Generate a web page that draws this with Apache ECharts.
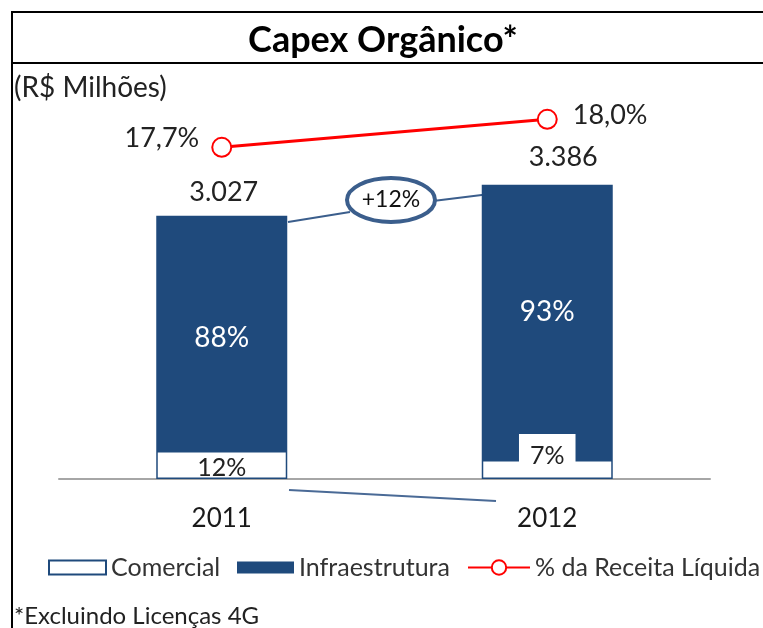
<!DOCTYPE html>
<html lang="pt">
<head>
<meta charset="UTF-8">
<title>Capex Orgânico</title>
<style>
  html, body { margin: 0; padding: 0; background: #fff; }
  #chart { width: 763px; height: 628px; }
</style>
</head>
<body>
<div id="chart"></div>
<script src="https://cdn.jsdelivr.net/npm/echarts@6/dist/echarts.min.js"></script>
<script>
  // dados (R$ milhões)
  const years = ['2011', '2012'];
  const comercial = [322, 218];
  const infraestrutura = [2705, 3168];
  const totals = [3027, 3386];
  const comercialPct = ['12%', '7%'];
  const infraPct = ['88%', '93%'];
  const receitaPct = [17.7, 18.0];
  const growthText = '+12%';

  const FONT = 'Lato, "Noto Sans", sans-serif';
  const BLUE = '#1F4A7C';

  function fmtThousands(v) {
    return String(v).replace(/\B(?=(\d{3})+(?!\d))/g, '.');
  }
  function fmtPct(v) {
    return v.toFixed(1).replace('.', ',') + '%';
  }

  const chart = echarts.init(document.getElementById('chart'));

  // offsets dos rótulos, por ano
  const totalOffsets = [[2, 0], [16, -4]];
  const infraOffsets = [[0, 5], [0, -10]];
  const comOffsets = [[0, 3], [0, -14]];
  const lineLabels = [
    { position: 'left', distance: 12, offset: [0, -9] },
    { position: 'right', distance: 15, offset: [0, -4] }
  ];

  const legendText = { fontSize: 25, fontFamily: FONT, color: '#333' };

  const option = {
    animation: false,
    grid: { left: 59, right: 53, top: 100, bottom: 149 },
    xAxis: {
      type: 'category',
      data: years,
      axisLine: { lineStyle: { color: '#A6A6A6', width: 2 } },
      axisTick: { show: false },
      axisLabel: { color: '#1a1a1a', fontSize: 26, fontFamily: FONT, margin: 27 }
    },
    yAxis: [
      { type: 'value', min: 0, max: 4360, show: false },
      { type: 'value', min: 14.145, max: 18.207, show: false }
    ],
    legend: [
      {
        data: ['Comercial'], left: 48, top: 555, padding: 0, icon: 'rect',
        itemWidth: 57, itemHeight: 14, itemGap: 0, textStyle: legendText
      },
      {
        data: ['Infraestrutura'], left: 237, top: 555, padding: 0, icon: 'rect',
        itemWidth: 57, itemHeight: 12, itemGap: 0, textStyle: legendText
      },
      {
        data: ['% da Receita Líquida'], left: 467, top: 555, padding: 0,
        itemWidth: 62, itemHeight: 18, itemGap: 0, textStyle: legendText
      }
    ],
    series: [
      {
        name: 'Comercial',
        type: 'bar',
        stack: 'capex',
        barWidth: 131,
        z: 4,
        itemStyle: { color: '#FFFFFF', borderColor: BLUE, borderWidth: 1.5 },
        data: comercial.map((v, i) => ({
          value: v,
          label: {
            show: true,
            position: 'inside',
            offset: comOffsets[i],
            formatter: comercialPct[i],
            color: '#222',
            fontSize: 25,
            fontFamily: FONT,
            backgroundColor: i === 1 ? '#FFFFFF' : 'transparent',
            padding: i === 1 ? [13, 11, 5, 11] : 0
          }
        }))
      },
      {
        name: 'Infraestrutura',
        type: 'bar',
        stack: 'capex',
        barWidth: 131,
        z: 2,
        itemStyle: { color: BLUE },
        data: infraestrutura.map((v, i) => ({
          value: v,
          label: {
            show: true,
            position: 'inside',
            offset: infraOffsets[i],
            formatter: infraPct[i],
            color: '#FFFFFF',
            fontSize: 28,
            fontFamily: FONT
          }
        }))
      },
      {
        // rótulo do total por cima da pilha
        name: 'total',
        type: 'bar',
        stack: 'capex',
        barWidth: 131,
        itemStyle: { color: 'transparent' },
        data: totals.map((v, i) => ({
          value: 0,
          label: {
            show: true,
            position: 'top',
            distance: 10,
            offset: totalOffsets[i],
            formatter: fmtThousands(v),
            color: '#222',
            fontSize: 27,
            fontFamily: FONT
          }
        })),
        silent: true
      },
      {
        name: '% da Receita Líquida',
        type: 'line',
        yAxisIndex: 1,
        symbol: 'emptyCircle',
        symbolSize: 19,
        color: '#FF0000',
        lineStyle: { color: '#FF0000', width: 3 },
        itemStyle: { color: '#FF0000', borderWidth: 2 },
        data: receitaPct.map((v, i) => ({
          value: v,
          label: Object.assign({
            show: true,
            formatter: fmtPct(v),
            color: '#222',
            fontSize: 27,
            fontFamily: FONT
          }, lineLabels[i])
        })),
        z: 5
      }
    ],
    graphic: [
      // moldura
      { type: 'rect', shape: { x: 12, y: 12, width: 800, height: 700 },
        style: { fill: 'none', stroke: '#000', lineWidth: 2 }, z: 0 },
      { type: 'line', shape: { x1: 12, y1: 63, x2: 763, y2: 63 },
        style: { stroke: '#000', lineWidth: 2 }, z: 0 },
      { type: 'text', x: 383, y: 40,
        style: { text: 'Capex Orgânico*', font: 'bold 36px ' + FONT, fill: '#000',
                 textAlign: 'center', textVerticalAlign: 'middle' } },
      { type: 'text', x: 14, y: 88,
        style: { text: '(R$ Milhões)', font: '28px ' + FONT, fill: '#222',
                 textAlign: 'left', textVerticalAlign: 'middle' } },
      { type: 'text', x: 14, y: 616,
        style: { text: '*Excluindo Licenças 4G', font: '24px ' + FONT, fill: '#222',
                 textAlign: 'left', textVerticalAlign: 'middle' } },
      // conectores do crescimento
      { type: 'line', shape: { x1: 288, y1: 222, x2: 350, y2: 212 },
        style: { stroke: '#3B5E8C', lineWidth: 2 }, z: 1 },
      { type: 'line', shape: { x1: 433, y1: 201, x2: 498, y2: 193 },
        style: { stroke: '#3B5E8C', lineWidth: 2 }, z: 1 },
      { type: 'line', shape: { x1: 289, y1: 490, x2: 496, y2: 501 },
        style: { stroke: '#4A6A96', lineWidth: 2 }, z: 1 },
      { type: 'ellipse', shape: { cx: 391, cy: 200, rx: 44, ry: 22 },
        style: { fill: '#fff', stroke: '#3B5E8C', lineWidth: 4 }, z: 10 },
      { type: 'text', x: 391, y: 200, z: 11,
        style: { text: growthText, font: '23px ' + FONT, fill: '#111',
                 textAlign: 'center', textVerticalAlign: 'middle' } }
    ]
  };

  chart.setOption(option);
  window.addEventListener('resize', function () {
    chart.resize();
  });
</script>
</body>
</html>
